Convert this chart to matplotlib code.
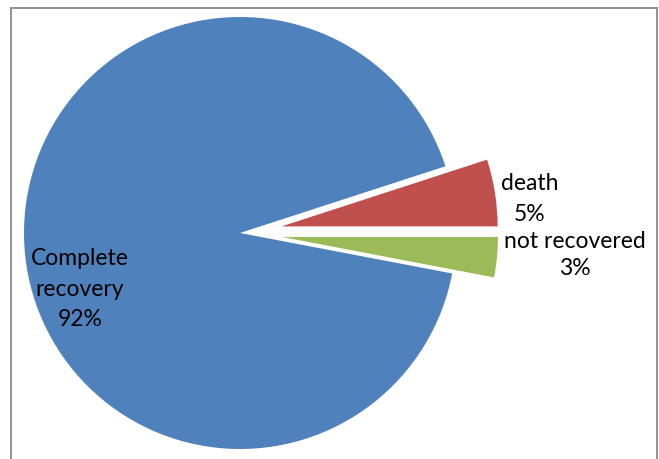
import matplotlib
matplotlib.use("Agg")
import matplotlib.pyplot as plt

# data
labels = ["death", "Complete\nrecovery", "not recovered"]
values = [5, 92, 3]
colors = ["#C0504D", "#4F81BD", "#9BBB59"]
explode = [0.195, 0, 0.195]

W, H = 659, 459
cx, cy, R = 240, 233, 216  # pie centre / radius in pixels

fig = plt.figure(figsize=(W / 100, H / 100), dpi=100)
ax = fig.add_axes([0, 0, 1, 1])
ax.pie(values, explode=explode, colors=colors, startangle=0,
       counterclock=True, radius=1, wedgeprops=dict(linewidth=0))
ax.set_xlim(-cx / R, (W - cx) / R)
ax.set_ylim(-(H - cy) / R, cy / R)
ax.set_aspect("equal")
ax.axis("off")

plt.rcParams['font.family'] = ['Lato', 'DejaVu Sans']
fs = 16.5

def put(txt, px, py, ls=1.55):
    fig.text(px / W, 1 - py / H, txt, ha="center", va="center",
             fontsize=fs, linespacing=ls, color="black")

put(labels[1] + "\n%d%%" % values[1], 80, 289)
put(labels[0] + "\n%d%%" % values[0], 530, 199)
put(labels[2] + "\n%d%%" % values[2], 575, 255, ls=1.3)

# outer frame (no bottom edge)
fc = "#8a8a8a"
fig.add_artist(plt.Line2D([11 / W, 11 / W], [0, 1 - 8 / H], transform=fig.transFigure, color=fc, lw=1.3))
fig.add_artist(plt.Line2D([11 / W, 657 / W], [1 - 8 / H, 1 - 8 / H], transform=fig.transFigure, color=fc, lw=1.3))
fig.add_artist(plt.Line2D([657 / W, 657 / W], [0, 1 - 8 / H], transform=fig.transFigure, color=fc, lw=1.3))

fig.savefig("out.png", dpi=100)
